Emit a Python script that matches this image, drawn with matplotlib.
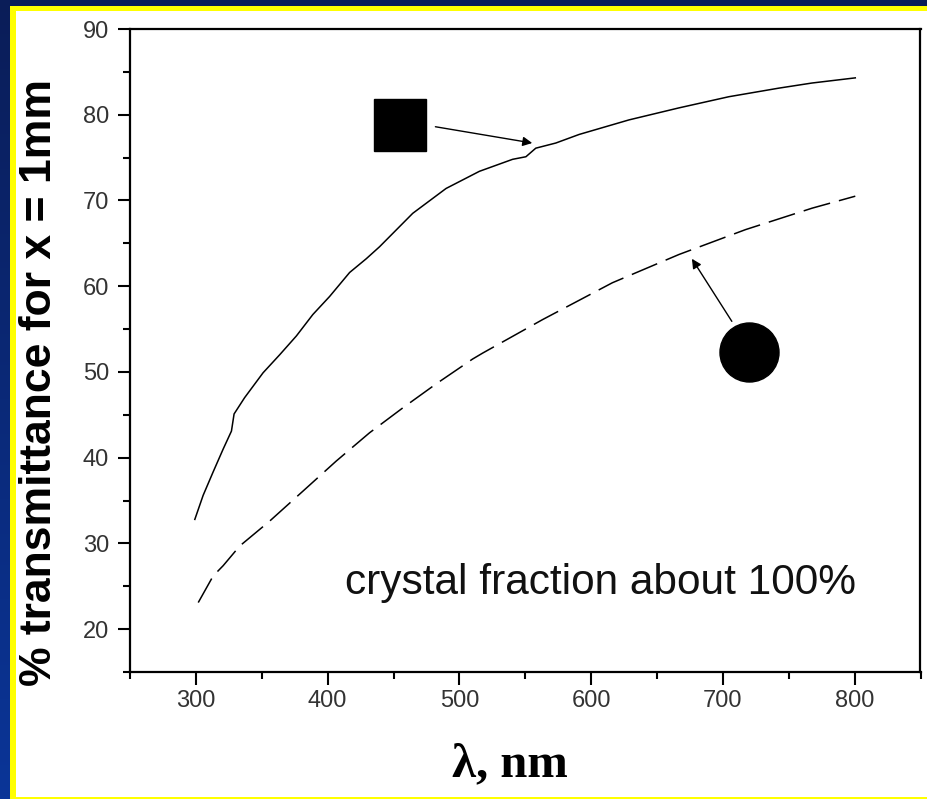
import numpy as np
import matplotlib
matplotlib.use("Agg")
import matplotlib.pyplot as plt
from matplotlib.patches import Rectangle
from matplotlib.ticker import MultipleLocator
from matplotlib.colors import LinearSegmentedColormap

# ---- data ----
solid_x = [299.2, 305.5, 313, 320.7, 327, 329, 337, 351, 363.6, 376.3, 388.8, 401.5,
           416.7, 429.3, 439.4, 464.6, 489.9, 515.2, 540.4, 550.5, 558, 573.2, 590.9,
           628.8, 666.7, 704.5, 742.4, 767.7, 800.5]
solid_y = [32.8, 35.6, 38.3, 41.0, 43.1, 45.1, 47.0, 49.9, 52.0, 54.2, 56.7, 58.8,
           61.6, 63.2, 64.6, 68.5, 71.4, 73.4, 74.8, 75.1, 76.1, 76.7, 77.7,
           79.4, 80.8, 82.1, 83.1, 83.7, 84.3]

dashed_x = [301.8, 313.1, 320.7, 333.3, 356, 381.3, 406.5, 431.8, 457, 482.3, 510,
            517.7, 563.1, 616.1, 666.7, 717.2, 767.7, 800.5]
dashed_y = [23.1, 26.2, 27.4, 29.7, 32.6, 36.1, 39.6, 42.9, 45.8, 48.6, 51.5,
            52.2, 56.1, 60.4, 63.7, 66.6, 69.1, 70.5]

square_xy = (455.3, 78.8)
square_arrow_from = (481.8, 78.6)
square_arrow_to = (555.3, 76.7)

circle_xy = (719.7, 52.3)
circle_arrow_from = (706.8, 55.9)
circle_arrow_to = (676.5, 63.2)

x_ticks = [300, 400, 500, 600, 700, 800]
y_ticks = [20, 30, 40, 50, 60, 70, 80, 90]

annotation_text = "crystal fraction about 100%"
y_label = "% transmittance for x = 1mm"
x_label = "\u03bb, nm"

# ---- figure ----
W, H = 928, 799
fig = plt.figure(figsize=(W / 100, H / 100), dpi=100)

# background gradient (navy)
bg = fig.add_axes([0, 0, 1, 1], zorder=-10)
grad = np.linspace(0, 1, 256).reshape(-1, 1)
cmap = LinearSegmentedColormap.from_list("navy", ["#0a1d58", "#0a3598"])
bg.imshow(grad, aspect="auto", cmap=cmap, extent=[0, 1, 0, 1], origin="upper")
bg.set_xlim(0, 1)
bg.set_ylim(0, 1)
bg.axis("off")


def frac_rect(x0, y0, x1, y1, color, z):
    r = Rectangle((x0 / W, 1 - y1 / H), (x1 - x0) / W, (y1 - y0) / H,
                  transform=fig.transFigure, facecolor=color, edgecolor="none", zorder=z)
    fig.patches.append(r)


frac_rect(10, 6, W, H, "#ffff00", -5)
frac_rect(16, 11, W, 797, "white", -4)

ax = fig.add_axes([130 / W, 1 - 672 / H, (920.5 - 130) / W, (672 - 29) / H])
ax.set_facecolor("white")
ax.set_xlim(250, 850)
ax.set_ylim(15, 90)

ax.plot(solid_x, solid_y, color="black", lw=1.1)
ax.plot(dashed_x, dashed_y, color="black", lw=1.1, dashes=(18, 6))

ax.plot([square_xy[0]], [square_xy[1]], marker="s", markersize=37.5, color="black", ls="none")
ax.plot([circle_xy[0]], [circle_xy[1]], marker="o", markersize=42.5, color="black", ls="none")

arrowprops = dict(arrowstyle="-|>", lw=1.0, color="black", mutation_scale=14,
                  shrinkA=0, shrinkB=0)
ax.annotate("", xy=square_arrow_to, xytext=square_arrow_from, arrowprops=arrowprops)
ax.annotate("", xy=circle_arrow_to, xytext=circle_arrow_from, arrowprops=arrowprops)

ax.text(607, 25.4, annotation_text, ha="center", va="center",
        fontsize=30.5, family="Liberation Sans", color="#111111")

ax.set_xticks(x_ticks)
ax.set_yticks(y_ticks)
ax.xaxis.set_minor_locator(MultipleLocator(50))
ax.yaxis.set_minor_locator(MultipleLocator(5))
ax.tick_params(which="major", direction="out", length=9, width=1.5,
               labelsize=17, pad=4)
ax.tick_params(which="minor", direction="out", length=5, width=1.5)
ax.tick_params(axis="y", which="major", pad=6)
for lab in ax.get_xticklabels() + ax.get_yticklabels():
    lab.set_fontfamily("Liberation Sans")
    lab.set_color("#333333")
for s in ax.spines.values():
    s.set_linewidth(1.6)

fig.text(40 / W, 1 - 383 / H, y_label, rotation=90, ha="center", va="center",
         fontsize=32, fontweight="bold", family="Liberation Sans", color="black")
fig.text(510 / W, 1 - 764 / H, x_label, ha="center", va="center",
         fontsize=35, fontweight="bold", family="Liberation Serif", color="black")

fig.savefig("out.png", dpi=100)
